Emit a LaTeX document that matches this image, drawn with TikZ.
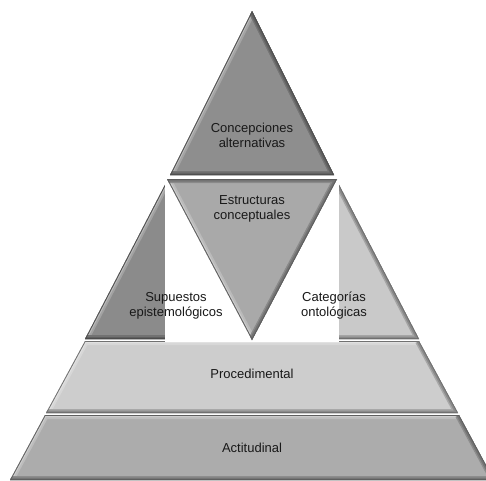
\documentclass[tikz,border=0pt]{standalone}
\usepackage{fontspec}
\setmainfont{Liberation Sans}
\begin{document}
\begin{tikzpicture}[x=1pt,y=-1pt,
  lbl/.style={align=center,font=\fontsize{13}{15}\selectfont,text=black!90,inner sep=0pt}]
\definecolor{cTop}{HTML}{8E8E8E}
\definecolor{cLeft}{HTML}{8B8B8B}
\definecolor{cRight}{HTML}{C9C9C9}
\definecolor{cInv}{HTML}{A9A9A9}
\definecolor{cProc}{HTML}{CDCDCD}
\definecolor{cAct}{HTML}{ACACAC}
% #1 fill colour, #2 closed outline, #3 edges in shadow
\newcommand\bevshape[3]{%
  \fill[#1] #2;
  \begin{scope}
    \clip #2;
    \draw[line width=8pt,#1!80!white,line join=miter] #2;
    \draw[line width=4pt,#1!60!white,line join=miter] #2;
    \draw[line width=8pt,#1!82!black] #3;
    \draw[line width=5pt,#1!68!black] #3;
    \draw[line width=1.6pt,#1!55!black,line join=miter] #2;
  \end{scope}}
\useasboundingbox (0,0) rectangle (486,480);
\clip (0,0) rectangle (486,480);
% bottom bands
\bevshape{cAct}{(45,415) -- (459,415) -- (494,480) -- (10,480) -- cycle}
  {(459,415) -- (494,480) -- (10,480)}
\bevshape{cProc}{(85,341) -- (419,341) -- (458,413) -- (46,413) -- cycle}
  {(419,341) -- (458,413) -- (46,413)}
% middle pieces
\bevshape{cLeft}{(168,179) -- (252,179) -- (252,339) -- (85,339) -- cycle}
  {(252,339) -- (85,339)}
\bevshape{cRight}{(252,179) -- (336,179) -- (419,339) -- (252,339) -- cycle}
  {(336,179) -- (419,339) -- (252,339)}
% white panel
\fill[white] (165,177) rectangle (339,342);
% top triangle
\bevshape{cTop}{(252,11) -- (334,175) -- (170,175) -- cycle}
  {(252,11) -- (334,175) -- (170,175)}
% inverted triangle
\bevshape{cInv}{(167,179) -- (337,179) -- (252,340) -- cycle}
  {(167,179) -- (337,179) -- (252,340)}
% labels
\node[lbl] (ca) at (252,135) {Concepciones\\alternativas};
\node[lbl] (ec) at (252,209) {Estructuras\\conceptuales};
\node[lbl] (se) at (176,306) {Supuestos\\epistemológicos};
\node[lbl] (co) at (334,306) {Categorías\\ontológicas};
\node[lbl] (pr) at (252,374) {Procedimental};
\node[lbl] (ac) at (252,448) {Actitudinal};
\end{tikzpicture}
\end{document}
